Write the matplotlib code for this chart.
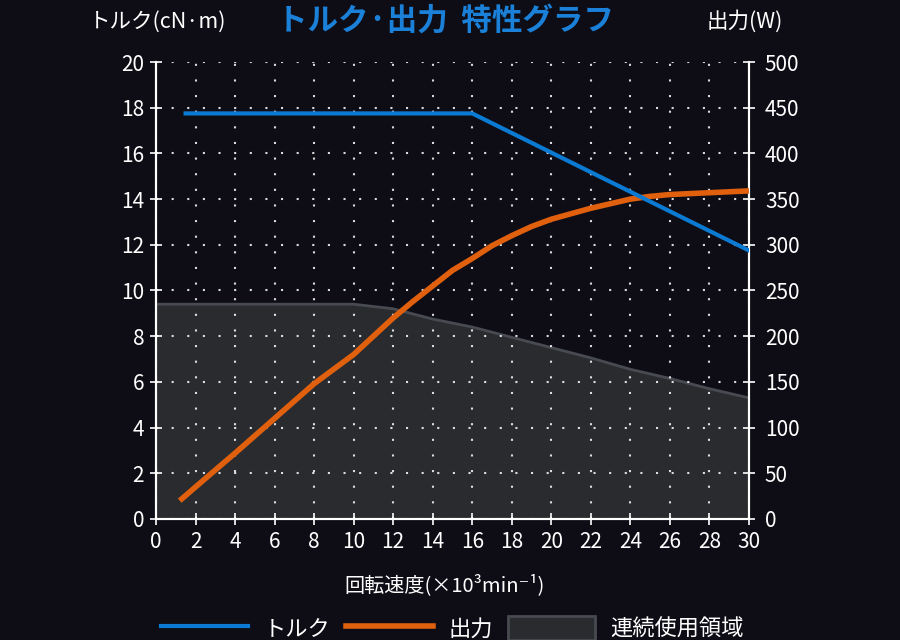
import matplotlib
matplotlib.use('Agg')
import matplotlib.pyplot as plt
from matplotlib.lines import Line2D
from matplotlib.patches import Patch

plt.rcParams['font.family'] = ['Noto Sans CJK JP', 'DejaVu Sans']

# data
torque_speed = [1.5, 16, 30]
torque_vals = [17.75, 17.75, 11.75]

power_speed = [1.2, 2, 4, 6, 8, 10, 11, 12, 13, 14, 15, 16, 17, 18, 19, 20,
               21, 22, 23, 24, 25, 26, 28, 30]
power_vals = [20, 35, 72, 110, 148, 180, 200, 220, 238, 255, 272, 285, 299, 310, 320, 328,
              334, 340, 345, 350, 353, 355, 357, 359]

cont_speed = [0, 10, 12, 14, 16, 18, 20, 22, 24, 26, 28, 30]
cont_vals = [9.4, 9.4, 9.2, 8.75, 8.4, 7.95, 7.5, 7.05, 6.55, 6.15, 5.7, 5.3]

x_ticks = list(range(0, 31, 2))
t_ticks = list(range(0, 21, 2))
p_ticks = list(range(0, 501, 50))

BG = '#0e0d16'
BLUE = '#0a7ad2'
ORANGE = '#e0600e'
FILL = '#2a2b2f'
EDGE = '#474a50'

fig = plt.figure(figsize=(9, 6.4), dpi=100, facecolor=BG)
ax = fig.add_axes([0.1733, 0.1891, 0.6589, 0.714])
ax.set_facecolor(BG)
ax2 = ax.twinx()

ax.fill_between(cont_speed, cont_vals, 0, color=FILL, zorder=1)
ax.plot(cont_speed, cont_vals, color=EDGE, lw=2, zorder=2)

ax.set_xlim(0, 30)
ax.set_ylim(0, 20)
ax2.set_ylim(0, 500)
ax.set_xticks(x_ticks)
ax.set_yticks(t_ticks)
ax2.set_yticks(p_ticks)

ax.grid(True, color='white', alpha=0.85, lw=1.5, linestyle=(0, (1, 6.5)), zorder=3)
ax.set_axisbelow(False)

ax2.plot(power_speed, power_vals, color=ORANGE, lw=4, zorder=5,
         solid_capstyle='butt', solid_joinstyle='round')
# torque drawn on the power axis (20 cN·m <-> 500 W) so it sits above the grid
ax2.plot(torque_speed, [v * 25 for v in torque_vals], color=BLUE, lw=3, zorder=6)

for a in (ax, ax2):
    for s in a.spines.values():
        s.set_color('white')
        s.set_linewidth(1.5)
    a.spines['top'].set_visible(False)
    a.tick_params(colors='white', labelsize=15, direction='inout', length=9, width=1.2)

ax.tick_params(axis='x', pad=4)
ax.tick_params(axis='y', pad=4)
ax2.tick_params(axis='y', pad=7)

fig.text(0.495, 0.968, 'トルク·出力  特性グラフ', color='#1a80d8', fontsize=22,
         fontweight='bold', ha='center', va='center')
fig.text(0.175, 0.966, 'トルク(cN·m)', color='white', fontsize=15.5, ha='center', va='center')
fig.text(0.828, 0.966, '出力(W)', color='white', fontsize=15.5, ha='center', va='center')
fig.text(0.494, 0.086, '回転速度(×10³min⁻¹)', color='white', fontsize=14.5,
         ha='center', va='center')

handles = [Line2D([], [], color=BLUE, lw=3),
           Line2D([], [], color=ORANGE, lw=4),
           Patch(facecolor=FILL, edgecolor=EDGE, lw=2)]
labels = ['トルク', '出力', '連続使用領域']
leg = fig.legend(handles, labels, loc='center', bbox_to_anchor=(0.503, 0.018), ncol=3,
                 frameon=False, fontsize=16, handlelength=3.9, handleheight=1.3,
                 columnspacing=0.7, handletextpad=0.7)
for t in leg.get_texts():
    t.set_color('white')

fig.savefig('out.png', dpi=100, facecolor=BG)
